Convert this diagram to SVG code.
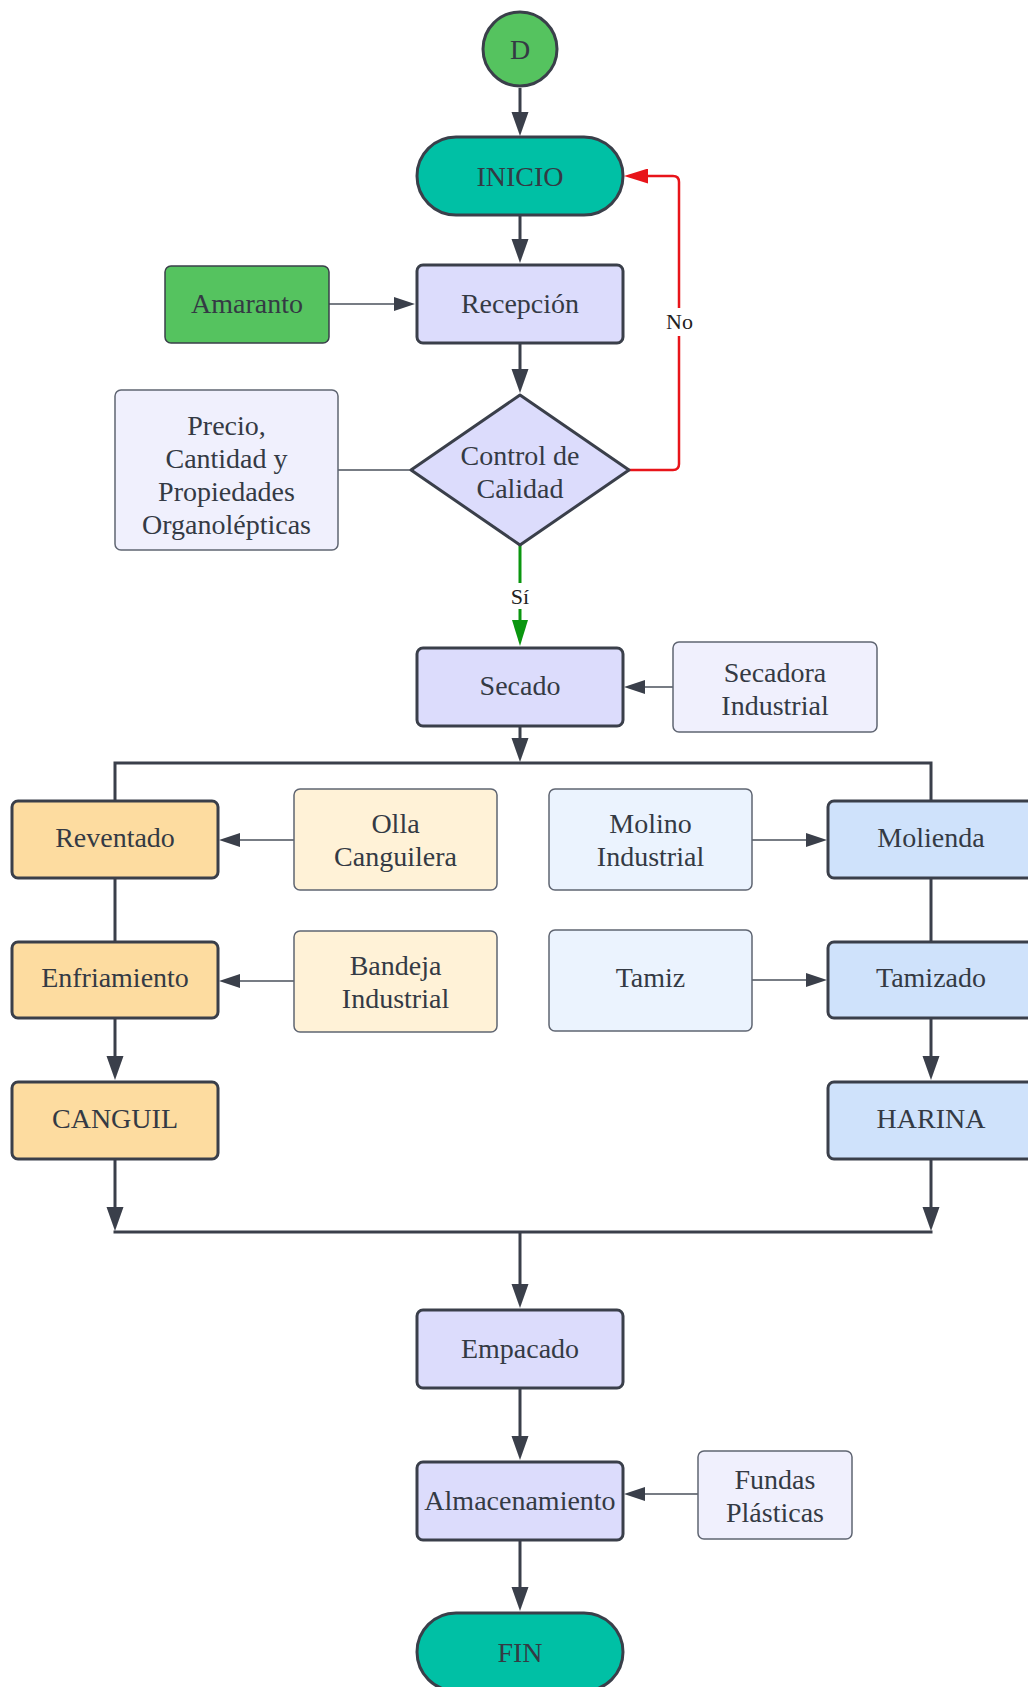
<svg xmlns="http://www.w3.org/2000/svg" width="1028" height="1687" viewBox="0 0 1028 1687">
  <style>
    text { font-family: "Liberation Serif", "Times New Roman", serif; font-size: 28px; fill: #343a44; text-anchor: middle; }
    .lbl { font-size: 22px; fill: #222; }
    .step { stroke: #3a3f4a; stroke-width: 3; }
    .aux { stroke: #5f6572; stroke-width: 1.5; }
    .purple { fill: #dcdcfc; }
    .pale { fill: #f0f0fd; }
    .term { fill: #00c0a5; }
    .leaf { fill: #55c35f; }
    .orange { fill: #fddca0; }
    .cream { fill: #fff2d7; }
    .blue { fill: #cfe2fb; }
    .sky { fill: #ebf3fe; }
    .flow { fill: none; stroke: #3a3f4a; stroke-width: 3; }
    .thin { fill: none; stroke: #4a505b; stroke-width: 1.5; }
    .no { fill: none; stroke: #e8141a; stroke-width: 2.5; }
    .yes { fill: none; stroke: #0a960f; stroke-width: 3; }
  </style>
  <defs>
    <marker id="arrow" markerUnits="userSpaceOnUse" markerWidth="24" markerHeight="18" refX="16" refY="9" orient="auto">
      <path d="M0,0.5 L24,9 L0,17.5 z" fill="#3a3f4a"/>
    </marker>
    <marker id="arrow-thin" markerUnits="userSpaceOnUse" markerWidth="21" markerHeight="14" refX="14" refY="7" orient="auto">
      <path d="M0,0 L21,7 L0,14 z" fill="#3a3f4a"/>
    </marker>
    <marker id="arrow-red" markerUnits="userSpaceOnUse" markerWidth="24" markerHeight="15" refX="17" refY="7.5" orient="auto">
      <path d="M0,0 L24,7.5 L0,15 z" fill="#e8141a"/>
    </marker>
    <marker id="arrow-green" markerUnits="userSpaceOnUse" markerWidth="26" markerHeight="16" refX="18" refY="8" orient="auto">
      <path d="M0,0 L26,8 L0,16 z" fill="#0a960f"/>
    </marker>
  </defs>

  <!-- connectors -->
  <g id="connectors">
    <line class="flow" x1="520" y1="88" x2="520" y2="128" marker-end="url(#arrow)"/>
    <line class="flow" x1="520" y1="215" x2="520" y2="255" marker-end="url(#arrow)"/>
    <line class="thin" x1="329" y1="304" x2="408" y2="304" marker-end="url(#arrow-thin)"/>
    <line class="flow" x1="520" y1="343" x2="520" y2="385" marker-end="url(#arrow)"/>
    <line class="thin" x1="338" y1="470" x2="411" y2="470"/>
    <path class="no" d="M629,470 H673 Q679,470 679,464 V182 Q679,176 673,176 H631" marker-end="url(#arrow-red)"/>
    <line class="yes" x1="520" y1="545" x2="520" y2="638" marker-end="url(#arrow-green)"/>
    <line class="thin" x1="673" y1="687" x2="631" y2="687" marker-end="url(#arrow-thin)"/>
    <line class="flow" x1="520" y1="726" x2="520" y2="754" marker-end="url(#arrow)"/>
    <path class="flow" d="M115,801 V763 H931 V801"/>
    <line class="thin" x1="294" y1="840" x2="226" y2="840" marker-end="url(#arrow-thin)"/>
    <line class="thin" x1="752" y1="840" x2="820" y2="840" marker-end="url(#arrow-thin)"/>
    <line class="flow" x1="115" y1="878" x2="115" y2="942"/>
    <line class="flow" x1="931" y1="878" x2="931" y2="942"/>
    <line class="thin" x1="294" y1="981" x2="226" y2="981" marker-end="url(#arrow-thin)"/>
    <line class="thin" x1="752" y1="980" x2="820" y2="980" marker-end="url(#arrow-thin)"/>
    <line class="flow" x1="115" y1="1018" x2="115" y2="1072" marker-end="url(#arrow)"/>
    <line class="flow" x1="931" y1="1018" x2="931" y2="1072" marker-end="url(#arrow)"/>
    <line class="flow" x1="115" y1="1159" x2="115" y2="1223" marker-end="url(#arrow)"/>
    <line class="flow" x1="931" y1="1159" x2="931" y2="1223" marker-end="url(#arrow)"/>
    <line class="flow" x1="113.5" y1="1232" x2="932.5" y2="1232"/>
    <line class="flow" x1="520" y1="1232" x2="520" y2="1300" marker-end="url(#arrow)"/>
    <line class="flow" x1="520" y1="1388" x2="520" y2="1452" marker-end="url(#arrow)"/>
    <line class="thin" x1="698" y1="1494" x2="631" y2="1494" marker-end="url(#arrow-thin)"/>
    <line class="flow" x1="520" y1="1540" x2="520" y2="1603" marker-end="url(#arrow)"/>
    <!-- edge labels -->
    <rect x="666" y="308" width="27" height="28" fill="#fff"/>
    <text class="lbl" x="679.5" y="329">No</text>
    <rect x="508" y="583" width="24" height="26" fill="#fff"/>
    <text class="lbl" x="520" y="604">Sí</text>
  </g>

  <!-- nodes -->
  <g id="n-d"><circle class="step leaf" cx="520" cy="49" r="37"/><text x="520" y="59">D</text></g>
  <g id="n-inicio"><rect class="step term" x="417" y="137" width="206" height="78" rx="39"/><text x="520" y="186">INICIO</text></g>
  <g id="n-amaranto"><rect class="leaf" stroke="#3a3f4a" stroke-width="1.5" x="165" y="266" width="164" height="77" rx="6"/><text x="247" y="313">Amaranto</text></g>
  <g id="n-recepcion"><rect class="step purple" x="417" y="265" width="206" height="78" rx="6"/><text x="520" y="313">Recepción</text></g>
  <g id="n-precio"><rect class="aux pale" x="115" y="390" width="223" height="160" rx="6"/>
    <text x="226.5" y="435">Precio,</text>
    <text x="226.5" y="468">Cantidad y</text>
    <text x="226.5" y="501">Propiedades</text>
    <text x="226.5" y="534">Organolépticas</text>
  </g>
  <g id="n-control"><polygon class="step purple" stroke-linejoin="round" points="520,395 629,470 520,545 411,470"/>
    <text x="520" y="465">Control de</text>
    <text x="520" y="498">Calidad</text>
  </g>
  <g id="n-secado"><rect class="step purple" x="417" y="648" width="206" height="78" rx="6"/><text x="520" y="695">Secado</text></g>
  <g id="n-secadora"><rect class="aux pale" x="673" y="642" width="204" height="90" rx="6"/>
    <text x="775" y="682">Secadora</text>
    <text x="775" y="715">Industrial</text>
  </g>
  <g id="n-reventado"><rect class="step orange" x="12" y="801" width="206" height="77" rx="6"/><text x="115" y="847">Reventado</text></g>
  <g id="n-olla"><rect class="aux cream" x="294" y="789" width="203" height="101" rx="6"/>
    <text x="395.5" y="833">Olla</text>
    <text x="395.5" y="866">Canguilera</text>
  </g>
  <g id="n-molino"><rect class="aux sky" x="549" y="789" width="203" height="101" rx="6"/>
    <text x="650.5" y="833">Molino</text>
    <text x="650.5" y="866">Industrial</text>
  </g>
  <g id="n-molienda"><rect class="step blue" x="828" y="801" width="206" height="77" rx="6"/><text x="931" y="847">Molienda</text></g>
  <g id="n-enfriamiento"><rect class="step orange" x="12" y="942" width="206" height="76" rx="6"/><text x="115" y="987">Enfriamiento</text></g>
  <g id="n-bandeja"><rect class="aux cream" x="294" y="931" width="203" height="101" rx="6"/>
    <text x="395.5" y="975">Bandeja</text>
    <text x="395.5" y="1008">Industrial</text>
  </g>
  <g id="n-tamiz"><rect class="aux sky" x="549" y="930" width="203" height="101" rx="6"/><text x="650.5" y="987">Tamiz</text></g>
  <g id="n-tamizado"><rect class="step blue" x="828" y="942" width="206" height="76" rx="6"/><text x="931" y="987">Tamizado</text></g>
  <g id="n-canguil"><rect class="step orange" x="12" y="1082" width="206" height="77" rx="6"/><text x="115" y="1128">CANGUIL</text></g>
  <g id="n-harina"><rect class="step blue" x="828" y="1082" width="206" height="77" rx="6"/><text x="931" y="1128">HARINA</text></g>
  <g id="n-empacado"><rect class="step purple" x="417" y="1310" width="206" height="78" rx="6"/><text x="520" y="1358">Empacado</text></g>
  <g id="n-almacenamiento"><rect class="step purple" x="417" y="1462" width="206" height="78" rx="6"/><text x="520" y="1510">Almacenamiento</text></g>
  <g id="n-fundas"><rect class="aux pale" x="698" y="1451" width="154" height="88" rx="6"/>
    <text x="775" y="1489">Fundas</text>
    <text x="775" y="1522">Plásticas</text>
  </g>
  <g id="n-fin"><rect class="step term" x="417" y="1613" width="206" height="78" rx="39"/><text x="520" y="1662">FIN</text></g>
</svg>
